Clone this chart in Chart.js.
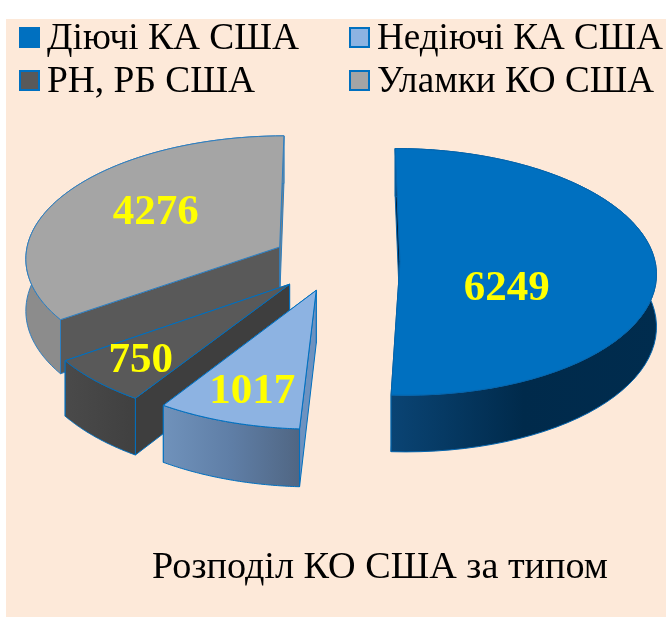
<!DOCTYPE html>
<html>
<head>
<meta charset="utf-8">
<title>Розподіл КО США за типом</title>
<script src="https://cdn.jsdelivr.net/npm/chart.js@4/dist/chart.umd.min.js"></script>
<style>
  html, body { margin: 0; background: #fff; }
  canvas { display: block; }
</style>
</head>
<body>
<canvas id="myChart" width="672" height="617"></canvas>
<script>
const categories = ['Діючі КА США', 'Недіючі КА США', 'РН, РБ США', 'Уламки КО США'];
const counts = [6249, 1017, 750, 4276];
const chartTitle = 'Розподіл КО США за типом';

// slice styles, same order as categories
const topColors = ['#0070c0', '#8db3e2', '#595959', '#a5a5a5'];
const outerWalls = [['#0a4474', '#002a4b', '#002c4e'], ['#7092bb', '#5f7ea6', '#506683'], ['#4a4a4a', '#454545', '#404040'], ['#8c8c8c', '#8c8c8c', '#8a8a8a']];
const startWalls = ['#00223f', '#6d92c0', '#3e3e3e', '#595959'];
const endWalls = ['#003055', '#506683', '#3e3e3e', '#7f7f7f'];
const edgeColors = ['#0565ad', '#0070c0', '#0070c0', '#2f7fc0'];
const explode = [64, 63, 66, 64];
const labelPos = [0.41, 0.75, 0.8, 0.64];
const labelNudge = [[2, 26], [1, 5], [4, 0], [15, 0]];

const legendX = [20, 350];
const legendY = [38, 81];
const legendW = [252, 286, 208, 277];

// flat pie -> tilted view with a bit of perspective
const tilt = 0.48;
const persp = 0.00032;
const depth = 52;

function project(arc, wx, wy, h) {
    const u = wx - arc.x;
    const v = wy - arc.y;
    const s = 1 / (1 - persp * v);
    return [arc.x + u * s, arc.y + tilt * v * s + h * s];
}

function rimPoints(arc, h, from, to) {
    const pts = [];
    const n = 60;
    for (let i = 0; i <= n; i++) {
        const a = from + (to - from) * i / n;
        pts.push(project(arc, arc.apexX + Math.cos(a) * arc.outerRadius, arc.apexY + Math.sin(a) * arc.outerRadius, h));
    }
    return pts;
}

function fillPoly(ctx, pts, fill, stroke) {
    ctx.beginPath();
    pts.forEach((p, i) => i ? ctx.lineTo(p[0], p[1]) : ctx.moveTo(p[0], p[1]));
    ctx.closePath();
    ctx.fillStyle = fill;
    ctx.fill();
    if (stroke) {
        ctx.strokeStyle = stroke;
        ctx.lineWidth = 1;
        ctx.stroke();
    }
}

function drawSlice(ctx, el, i) {
    const mid = (el.startAngle + el.endAngle) / 2;
    const arc = {
        x: el.x, y: el.y, outerRadius: el.outerRadius,
        apexX: el.x + Math.cos(mid) * el.options.offset,
        apexY: el.y + Math.sin(mid) * el.options.offset
    };
    const a0 = project(arc, arc.apexX, arc.apexY, 0);
    const a1 = project(arc, arc.apexX, arc.apexY, depth);
    const top = rimPoints(arc, 0, el.startAngle, el.endAngle);
    const bottom = rimPoints(arc, depth, el.startAngle, el.endAngle);
    const stroke = edgeColors[i];

    fillPoly(ctx, [a0, top[top.length - 1], bottom[bottom.length - 1], a1], endWalls[i], stroke);
    fillPoly(ctx, [a0, top[0], bottom[0], a1], startWalls[i], stroke);

    const xs = top.map(p => p[0]);
    const grad = ctx.createLinearGradient(Math.min(...xs), 0, Math.max(...xs), 0);
    outerWalls[i].forEach((c, k) => grad.addColorStop(k / (outerWalls[i].length - 1), c));
    fillPoly(ctx, top.concat(bottom.slice().reverse()), grad, stroke);

    fillPoly(ctx, [a0].concat(top), topColors[i], stroke);
}

function drawLabel(ctx, el, i) {
    const mid = (el.startAngle + el.endAngle) / 2;
    const arc = { x: el.x, y: el.y };
    const r = el.options.offset + el.outerRadius * labelPos[i];
    const p = project(arc, el.x + Math.cos(mid) * r, el.y + Math.sin(mid) * r, 0);
    ctx.fillStyle = '#ffff00';
    ctx.font = 'bold 43px "Liberation Serif"';
    ctx.textAlign = 'center';
    ctx.textBaseline = 'middle';
    ctx.fillText(String(counts[i]), p[0] + labelNudge[i][0], p[1] + labelNudge[i][1]);
}

const pie3d = {
    id: 'pie3d',
    beforeDraw(chart) {
        const ctx = chart.ctx;
        ctx.fillStyle = '#fde9d9';
        ctx.fillRect(6, 19, 660, 598);
    },
    beforeDatasetsDraw(chart) {
        const ctx = chart.ctx;
        const arcs = chart.getDatasetMeta(0).data;
        // back to front
        [3, 2, 1, 0].forEach(i => drawSlice(ctx, arcs[i], i));
        [3, 2, 1, 0].forEach(i => drawLabel(ctx, arcs[i], i));

        // legend
        ctx.textAlign = 'left';
        ctx.textBaseline = 'middle';
        ctx.font = '38.5px "Liberation Serif"';
        categories.forEach((name, i) => {
            const x = legendX[i % 2];
            const y = legendY[i >> 1];
            ctx.fillStyle = topColors[i];
            ctx.strokeStyle = '#0070c0';
            ctx.lineWidth = 2;
            ctx.fillRect(x, y - 10, 19, 19);
            ctx.strokeRect(x, y - 10, 19, 19);
            ctx.fillStyle = '#000';
            ctx.fillText(name, x + 27, y + 1, legendW[i]);
        });

        ctx.font = '38.5px "Liberation Serif"';
        ctx.fillStyle = '#000';
        ctx.fillText(chartTitle, 152, 568, 456);
        return false;
    }
};

const chart = new Chart(document.getElementById('myChart'), {
    type: 'pie',
    data: {
        labels: categories,
        datasets: [{ data: counts, backgroundColor: topColors, offset: explode }]
    },
    options: {
        responsive: false,
        animation: false,
        radius: 255,
        layout: { padding: { bottom: 95 } },
        plugins: { legend: { display: false }, tooltip: { enabled: false }, title: { display: false } }
    },
    plugins: [pie3d]
});
</script>
</body>
</html>
